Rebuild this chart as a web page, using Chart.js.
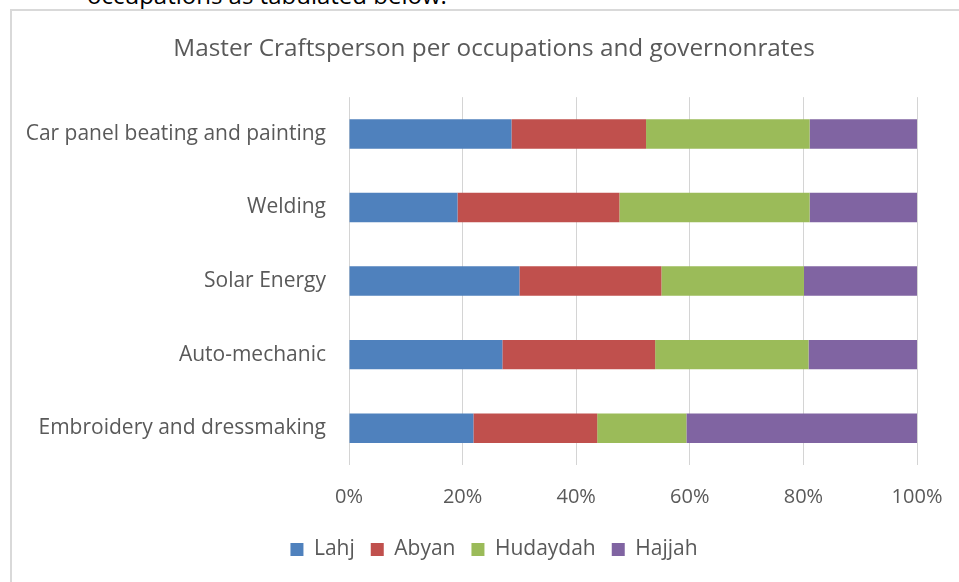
<!DOCTYPE html>
<html>
<head>
<meta charset="utf-8">
<script src="https://cdn.jsdelivr.net/npm/chart.js@4"></script>
<style>
  html, body { margin: 0; padding: 0; width: 959px; height: 582px; overflow: hidden; background: #fff; }
  .above { position: absolute; left: 87px; top: -22px; font: 24px "Open Sans", sans-serif; color: #000; white-space: nowrap; }
  .frame { position: absolute; left: 10px; top: 9px; width: 1000px; height: 700px; border: 2px solid #d9d9d9; box-sizing: border-box; }
  #chart { position: absolute; left: 11px; top: 0; }
</style>
</head>
<body>
<div class="above">occupations as tabulated below:</div>
<div class="frame"></div>
<canvas id="chart" width="966" height="582"></canvas>
<script>
let occupations = ["Car panel beating and painting", "Welding", "Solar Energy", "Auto-mechanic", "Embroidery and dressmaking"];
let lahj = [28.6, 19.1, 30.0, 27.0, 21.9];
let abyan = [23.7, 28.5, 25.0, 26.9, 21.8];
let hudaydah = [28.8, 33.5, 25.1, 27.0, 15.7];
let hajjah = [18.9, 18.9, 19.9, 19.1, 40.6];
let percentTicks = [0, 20, 40, 60, 80, 100];

let grey = "#595959";
let font = "'Open Sans', sans-serif";

let series = [
    { label: "Lahj", data: lahj, color: "#4f81bd" },
    { label: "Abyan", data: abyan, color: "#c0504d" },
    { label: "Hudaydah", data: hudaydah, color: "#9bbb59" },
    { label: "Hajjah", data: hajjah, color: "#8064a2" }
];

// title and legend are centred on the whole frame, not on the padded area
let centerOnFrame = {
    id: "centerOnFrame",
    afterLayout(chart) {
        chart.titleBlock.right = chart.width;
        chart.legend.right = chart.width;
    }
};

new Chart(document.getElementById("chart"), {
    type: "bar",
    data: {
        labels: occupations,
        datasets: series.map(s => ({
            label: s.label,
            data: s.data,
            backgroundColor: s.color,
            borderWidth: 0,
            barPercentage: 1,
            categoryPercentage: 0.4
        }))
    },
    options: {
        indexAxis: "y",
        responsive: false,
        animation: false,
        layout: { padding: { left: 0, right: 60, top: 0, bottom: 12 } },
        scales: {
            x: {
                stacked: true,
                min: 0,
                max: 100,
                afterBuildTicks: scale => { scale.ticks = percentTicks.map(v => ({ value: v })); },
                afterFit: scale => { scale.height = 58; },
                grid: { color: "#d4d4d4", lineWidth: 1, drawTicks: false },
                border: { display: false },
                ticks: {
                    padding: 20,
                    color: grey,
                    font: { family: font, size: 20 },
                    callback: v => v + "%"
                }
            },
            y: {
                stacked: true,
                afterFit: scale => { scale.width = 338; },
                grid: { display: false, drawTicks: false },
                border: { display: false },
                ticks: {
                    padding: 23,
                    color: grey,
                    font: { family: font, size: 21 }
                }
            }
        },
        plugins: {
            tooltip: { enabled: false },
            title: {
                display: true,
                text: "Master Craftsperson per occupations and governonrates",
                color: grey,
                font: { family: font, size: 24.3, weight: "normal" },
                padding: { top: 34, bottom: 34 }
            },
            legend: {
                position: "bottom",
                labels: {
                    boxWidth: 13,
                    boxHeight: 13,
                    padding: 16,
                    color: grey,
                    font: { family: font, size: 21 }
                }
            }
        }
    },
    plugins: [centerOnFrame]
});
</script>
</body>
</html>
